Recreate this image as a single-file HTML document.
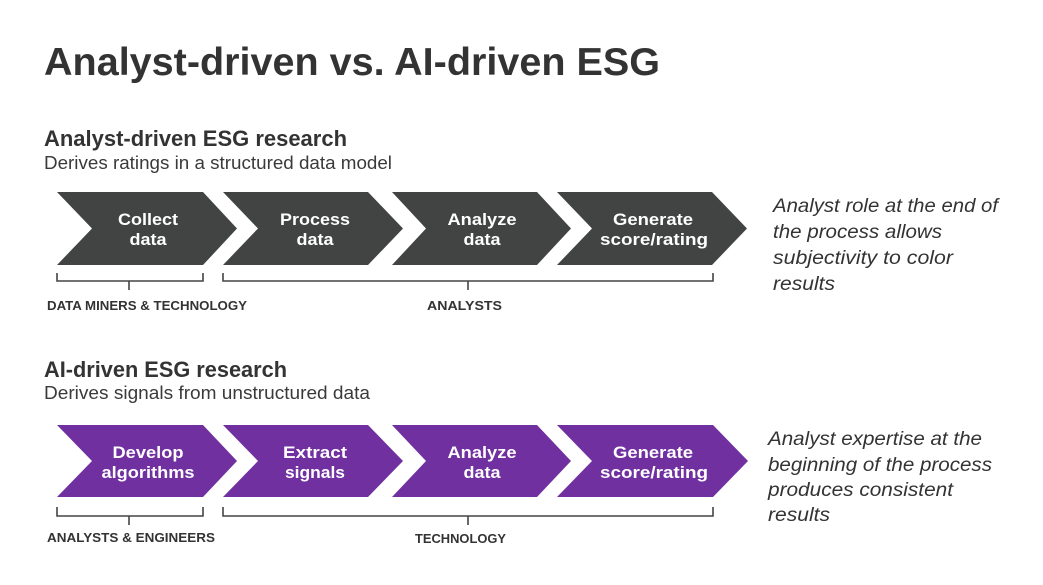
<!DOCTYPE html>
<html>
<head>
<meta charset="utf-8">
<style>
  html,body{margin:0;padding:0;background:#fff;}
  svg{display:block;}
  text{font-family:"Liberation Sans", Arial, sans-serif;}
</style>
</head>
<body>
<svg width="1043" height="585" viewBox="0 0 1043 585" xmlns="http://www.w3.org/2000/svg">
  <rect width="1043" height="585" fill="#ffffff"/>

  <!-- Title -->
  <text x="44" y="75" font-size="39" font-weight="bold" fill="#333333" textLength="616" lengthAdjust="spacingAndGlyphs">Analyst-driven vs. AI-driven ESG</text>

  <!-- Section 1 heading -->
  <text x="44" y="146" font-size="22" font-weight="bold" fill="#333333" textLength="303" lengthAdjust="spacingAndGlyphs">Analyst-driven ESG research</text>
  <text x="44" y="169" font-size="18" fill="#3a3a3a" textLength="348" lengthAdjust="spacingAndGlyphs">Derives ratings in a structured data model</text>

  <!-- Row 1 chevrons -->
  <g fill="#414443">
    <polygon points="57,192 203,192 237,228.5 203,265 57,265 92,228.5"/>
    <polygon points="223,192 368,192 403,228.5 368,265 223,265 258,228.5"/>
    <polygon points="392,192 537,192 571,228.5 537,265 392,265 426,228.5"/>
    <polygon points="557,192 712,192 747,228.5 712,265 557,265 592,228.5"/>
  </g>
  <g fill="#ffffff" font-size="17" font-weight="bold" text-anchor="middle">
    <text x="148" y="225" textLength="60" lengthAdjust="spacingAndGlyphs">Collect</text>
    <text x="148" y="245" textLength="37" lengthAdjust="spacingAndGlyphs">data</text>
    <text x="315" y="225" textLength="70" lengthAdjust="spacingAndGlyphs">Process</text>
    <text x="315" y="245" textLength="37" lengthAdjust="spacingAndGlyphs">data</text>
    <text x="482" y="225" textLength="69" lengthAdjust="spacingAndGlyphs">Analyze</text>
    <text x="482" y="245" textLength="37" lengthAdjust="spacingAndGlyphs">data</text>
    <text x="653" y="225" textLength="80" lengthAdjust="spacingAndGlyphs">Generate</text>
    <text x="654" y="245" textLength="108" lengthAdjust="spacingAndGlyphs">score/rating</text>
  </g>

  <!-- Row 1 brackets -->
  <g fill="none" stroke="#444444" stroke-width="1.6">
    <polyline points="57,273 57,281 203,281 203,273"/>
    <line x1="129" y1="281" x2="129" y2="290"/>
    <polyline points="223,273 223,281 713,281 713,273"/>
    <line x1="468" y1="281" x2="468" y2="290"/>
  </g>
  <g fill="#333333" font-size="13" font-weight="bold">
    <text x="47" y="310" textLength="200" lengthAdjust="spacingAndGlyphs">DATA MINERS &amp; TECHNOLOGY</text>
    <text x="427" y="310" textLength="75" lengthAdjust="spacingAndGlyphs">ANALYSTS</text>
  </g>

  <!-- Row 1 right text -->
  <g fill="#333333" font-size="19" font-style="italic">
    <text x="773" y="212" textLength="225" lengthAdjust="spacingAndGlyphs">Analyst role at the end of</text>
    <text x="773" y="238" textLength="169" lengthAdjust="spacingAndGlyphs">the process allows</text>
    <text x="773" y="264" textLength="180" lengthAdjust="spacingAndGlyphs">subjectivity to color</text>
    <text x="773" y="290" textLength="62" lengthAdjust="spacingAndGlyphs">results</text>
  </g>

  <!-- Section 2 heading -->
  <text x="44" y="377" font-size="22" font-weight="bold" fill="#333333" textLength="243" lengthAdjust="spacingAndGlyphs">AI-driven ESG research</text>
  <text x="44" y="399" font-size="18" fill="#3a3a3a" textLength="326" lengthAdjust="spacingAndGlyphs">Derives signals from unstructured data</text>

  <!-- Row 2 chevrons -->
  <g fill="#7030a0">
    <polygon points="57,425 203,425 237,461 203,497 57,497 92,461"/>
    <polygon points="223,425 368,425 403,461 368,497 223,497 258,461"/>
    <polygon points="392,425 537,425 571,461 537,497 392,497 426,461"/>
    <polygon points="557,425 713,425 748,461 713,497 557,497 592,461"/>
  </g>
  <g fill="#ffffff" font-size="17" font-weight="bold" text-anchor="middle">
    <text x="148" y="458" textLength="71" lengthAdjust="spacingAndGlyphs">Develop</text>
    <text x="148" y="478" textLength="93" lengthAdjust="spacingAndGlyphs">algorithms</text>
    <text x="315" y="458" textLength="64" lengthAdjust="spacingAndGlyphs">Extract</text>
    <text x="315" y="478" textLength="60" lengthAdjust="spacingAndGlyphs">signals</text>
    <text x="482" y="458" textLength="69" lengthAdjust="spacingAndGlyphs">Analyze</text>
    <text x="482" y="478" textLength="37" lengthAdjust="spacingAndGlyphs">data</text>
    <text x="653" y="458" textLength="80" lengthAdjust="spacingAndGlyphs">Generate</text>
    <text x="654" y="478" textLength="108" lengthAdjust="spacingAndGlyphs">score/rating</text>
  </g>

  <!-- Row 2 brackets -->
  <g fill="none" stroke="#444444" stroke-width="1.6">
    <polyline points="57,507 57,516 203,516 203,507"/>
    <line x1="129" y1="516" x2="129" y2="525"/>
    <polyline points="223,507 223,516 713,516 713,507"/>
    <line x1="468" y1="516" x2="468" y2="525"/>
  </g>
  <g fill="#333333" font-size="13" font-weight="bold">
    <text x="47" y="542" textLength="168" lengthAdjust="spacingAndGlyphs">ANALYSTS &amp; ENGINEERS</text>
    <text x="415" y="543" textLength="91" lengthAdjust="spacingAndGlyphs">TECHNOLOGY</text>
  </g>

  <!-- Row 2 right text -->
  <g fill="#333333" font-size="19" font-style="italic">
    <text x="768" y="445" textLength="214" lengthAdjust="spacingAndGlyphs">Analyst expertise at the</text>
    <text x="768" y="471" textLength="224" lengthAdjust="spacingAndGlyphs">beginning of the process</text>
    <text x="768" y="496" textLength="185" lengthAdjust="spacingAndGlyphs">produces consistent</text>
    <text x="768" y="521" textLength="62" lengthAdjust="spacingAndGlyphs">results</text>
  </g>
</svg>
</body>
</html>
